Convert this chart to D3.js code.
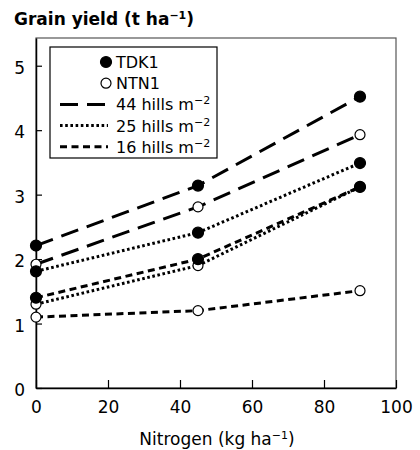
<!DOCTYPE html>
<html>
<head>
<meta charset="utf-8">
<script src="https://cdn.jsdelivr.net/npm/d3@7"></script>
<style>
  body { margin: 0; background: #fff; }
  text { font-family: "DejaVu Sans", sans-serif; fill: #000; }
</style>
</head>
<body>
<svg id="chart" width="420" height="450"></svg>
<script>
// nitrogen rates (kg/ha) and grain yield (t/ha) per cultivar x planting density
const nitrogen = [0, 45, 90];
const tdk44 = [2.21, 3.14, 4.52];
const ntn44 = [1.92, 2.81, 3.93];
const tdk25 = [1.81, 2.41, 3.49];
const ntn25 = [1.30, 1.90, 3.12];
const tdk16 = [1.40, 2.00, 3.12];
const ntn16 = [1.10, 1.20, 1.51];
const xTicks = [0, 20, 40, 60, 80, 100];
const yTicks = [0, 1, 2, 3, 4, 5];

const dash = { 44: "18,9", 25: "2.6,2.6", 16: "7,4.5" };

// NTN1 first so TDK1 filled markers sit on top where they overlap
const series = [
  { values: ntn44, density: 44, filled: false },
  { values: ntn25, density: 25, filled: false },
  { values: ntn16, density: 16, filled: false },
  { values: tdk44, density: 44, filled: true },
  { values: tdk25, density: 25, filled: true },
  { values: tdk16, density: 16, filled: true }
];

const margin = { top: 38, right: 24, bottom: 62, left: 36 };
const width = 420 - margin.left - margin.right;
const height = 450 - margin.top - margin.bottom;

const svg = d3.select("#chart");
const g = svg.append("g").attr("transform", `translate(${margin.left},${margin.top})`);

const x = d3.scaleLinear().domain([0, 100]).range([0, width]);
const y = d3.scaleLinear().domain([0, 5.43]).range([height, 0]);

// frame
g.append("rect")
  .attr("width", width).attr("height", height)
  .attr("fill", "none").attr("stroke", "#555").attr("stroke-width", 1.2);

const xAxis = g.append("g")
  .attr("transform", `translate(0,${height})`)
  .call(d3.axisBottom(x).tickValues(xTicks).tickFormat(d3.format("d"))
    .tickSizeInner(-8).tickSizeOuter(0).tickPadding(13));
const yAxis = g.append("g")
  .call(d3.axisLeft(y).tickValues(yTicks).tickFormat(d3.format("d"))
    .tickSizeInner(-6).tickSizeOuter(0).tickPadding(11));

[xAxis, yAxis].forEach((a) => {
  a.select(".domain").attr("stroke", "#000").attr("stroke-width", 1.5);
  a.selectAll("line").attr("stroke", "#000").attr("stroke-width", 1.2);
  a.selectAll("text").attr("font-size", 17).attr("font-family", "DejaVu Sans");
});
yAxis.selectAll("text").attr("dy", "0.45em");

const line = d3.line()
  .x((d, i) => x(nitrogen[i]))
  .y((d) => y(d));

g.selectAll(".series")
  .data(series)
  .join("path")
  .attr("fill", "none")
  .attr("stroke", "#000")
  .attr("stroke-width", 3)
  .attr("stroke-dasharray", (d) => dash[d.density])
  .attr("d", (d) => line(d.values));

series.forEach((s) => {
  g.selectAll(null)
    .data(s.values)
    .join("circle")
    .attr("cx", (d, i) => x(nitrogen[i]))
    .attr("cy", (d) => y(d))
    .attr("r", s.filled ? 5.5 : 5)
    .attr("fill", s.filled ? "#000" : "#fff")
    .attr("stroke", "#000")
    .attr("stroke-width", 1.2);
});

// title
const title = svg.append("text")
  .attr("x", 14).attr("y", 25)
  .attr("font-size", 17).attr("font-weight", "bold");
title.append("tspan").text("Grain yield (t ha");
title.append("tspan").attr("dy", -6).attr("font-size", 11).text("\u22121");
title.append("tspan").attr("dy", 6).text(")");

// x axis title
const xt = svg.append("text")
  .attr("x", margin.left + width / 2 + 1).attr("y", 445)
  .attr("text-anchor", "middle").attr("font-size", 17);
xt.append("tspan").text("Nitrogen (kg ha");
xt.append("tspan").attr("dy", -6).attr("font-size", 11).text("\u22121");
xt.append("tspan").attr("dy", 6).text(")");

// legend
const legend = svg.append("g");
legend.append("rect")
  .attr("x", 50).attr("y", 47).attr("width", 167).attr("height", 111)
  .attr("fill", "#fff").attr("stroke", "#000").attr("stroke-width", 1.2);

const legendRows = [
  { label: "TDK1", marker: true, filled: true },
  { label: "NTN1", marker: true, filled: false },
  { label: "44 hills m", sup: "\u22122", density: 44 },
  { label: "25 hills m", sup: "\u22122", density: 25 },
  { label: "16 hills m", sup: "\u22122", density: 16 }
];

legendRows.forEach((r, i) => {
  const cy = 62 + i * 21.2;
  if (r.marker) {
    legend.append("circle")
      .attr("cx", 106).attr("cy", cy)
      .attr("r", r.filled ? 5.5 : 5)
      .attr("fill", r.filled ? "#000" : "#fff")
      .attr("stroke", "#000").attr("stroke-width", 1.2);
  } else {
    legend.append("line")
      .attr("x1", 60).attr("x2", 108).attr("y1", cy).attr("y2", cy)
      .attr("stroke", "#000").attr("stroke-width", 3)
      .attr("stroke-dasharray", dash[r.density]);
  }
  const t = legend.append("text")
    .attr("x", 116).attr("y", cy + 6)
    .attr("font-size", 16);
  t.append("tspan").text(r.label);
  if (r.sup) {
    t.append("tspan").attr("dy", -6).attr("font-size", 11).text(r.sup);
  }
});
</script>
</body>
</html>
